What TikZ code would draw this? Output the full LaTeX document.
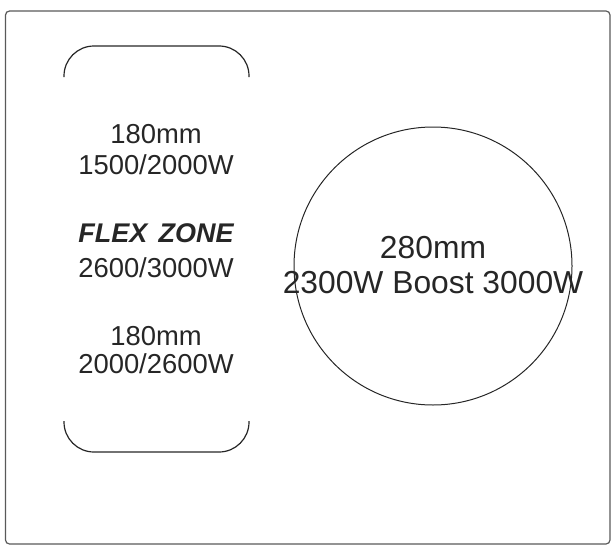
\documentclass[tikz,border=0pt]{standalone}
\usepackage{fontspec}
\setmainfont{Liberation Sans}
\begin{document}
\begin{tikzpicture}[x=1pt,y=-1pt,
  outline/.style={draw=black!65,line width=1.2pt,rounded corners=4pt},
  bracket/.style={draw=black!85,line width=1.2pt,rounded corners=30pt},
  zone/.style={draw=black!85,line width=1pt},
  lbl/.style={text=black!85,font=\fontsize{27.4}{32}\selectfont,align=center,inner sep=0pt,anchor=base},
  biglbl/.style={text=black!85,font=\fontsize{31.8}{36}\selectfont,align=center,inner sep=0pt,anchor=base}]
\useasboundingbox (0,0) rectangle (615,551);
\draw[outline] (5.5,11) rectangle (610,544);
% flex zone brackets
\draw[bracket] (64,77) -- (64,46) -- (249,46) -- (249,77);
\draw[bracket] (64,421) -- (64,452) -- (249,452) -- (249,421);
% large zone
\node[zone,circle,minimum size=278pt,inner sep=0pt] (big) at (433,266) {};
% labels
\node[lbl] (t1) at (156,143) {180mm};
\node[lbl] (t2) at (156,174) {1500/2000W};
\node[lbl,font=\fontsize{27}{32}\selectfont\bfseries\itshape] (t3) at (156,242) {FLEX\hspace{0.42em}ZONE};
\node[lbl] (t4) at (156,277) {2600/3000W};
\node[lbl] (t5) at (156,345) {180mm};
\node[lbl] (t6) at (156,373) {2000/2600W};
\node[biglbl] (c1) at (433,258) {280mm};
\node[biglbl] (c2) at (433,293) {2300W Boost 3000W};
\end{tikzpicture}
\end{document}
